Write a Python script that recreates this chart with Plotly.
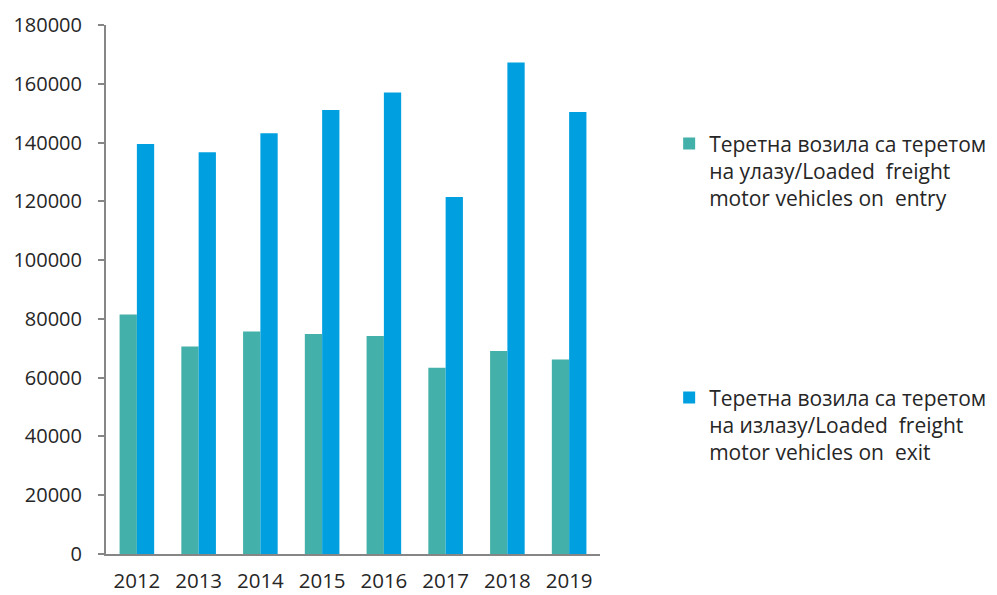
import plotly.graph_objects as go

years = ["2012", "2013", "2014", "2015", "2016", "2017", "2018", "2019"]
entry = [81500, 70600, 75700, 74900, 74200, 63400, 69100, 66200]
exit_ = [139500, 136700, 143200, 151100, 157000, 121500, 167200, 150400]
name_entry = "Теретна возила са теретом<br>на улазу/Loaded  freight<br>motor vehicles on  entry"
name_exit = "Теретна возила са теретом<br>на излазу/Loaded  freight<br>motor vehicles on  exit"
tick_vals = [0, 20000, 40000, 60000, 80000, 100000, 120000, 140000, 160000, 180000]

font_family = "Open Sans, Noto Sans, sans-serif"
text_color = "#262626"
axis_color = "#868686"

fig = go.Figure()
fig.add_trace(go.Bar(x=years, y=entry, name=name_entry, marker=dict(color="#43B0A9", line=dict(width=0)), legend="legend"))
fig.add_trace(go.Bar(x=years, y=exit_, name=name_exit, marker=dict(color="#00A0E0", line=dict(width=0)), legend="legend2"))

legend_common = dict(
    xanchor="left", yanchor="top", valign="top",
    font=dict(family=font_family, size=21, color=text_color),
    bgcolor="rgba(0,0,0,0)", itemwidth=30, traceorder="normal",
)

fig.update_layout(
    width=997, height=595,
    margin=dict(l=106, r=397, t=25, b=41, autoexpand=False),
    paper_bgcolor="white", plot_bgcolor="white",
    barmode="group", bargap=0.44, bargroupgap=0,
    font=dict(family=font_family, size=21, color=text_color),
    showlegend=True,
    legend=dict(x=1.14, y=0.814, **legend_common),
    legend2=dict(x=1.14, y=0.334, **legend_common),
    xaxis=dict(showline=True, linecolor=axis_color, linewidth=2, ticks="", showgrid=False,
               tickfont=dict(size=20.5), ticklabelstandoff=7, automargin=False),
    yaxis=dict(range=[0, 180000], tickvals=tick_vals, tickformat="d", showline=True,
               linecolor=axis_color, linewidth=2, ticks="outside", ticklen=6, tickwidth=2,
               tickcolor=axis_color, showgrid=False, zeroline=False, tickfont=dict(size=20),
               ticklabelstandoff=12, automargin=False),
)

fig.write_html("out.html", config={"displayModeBar": False},
               post_script="document.body.style.margin='0';")
